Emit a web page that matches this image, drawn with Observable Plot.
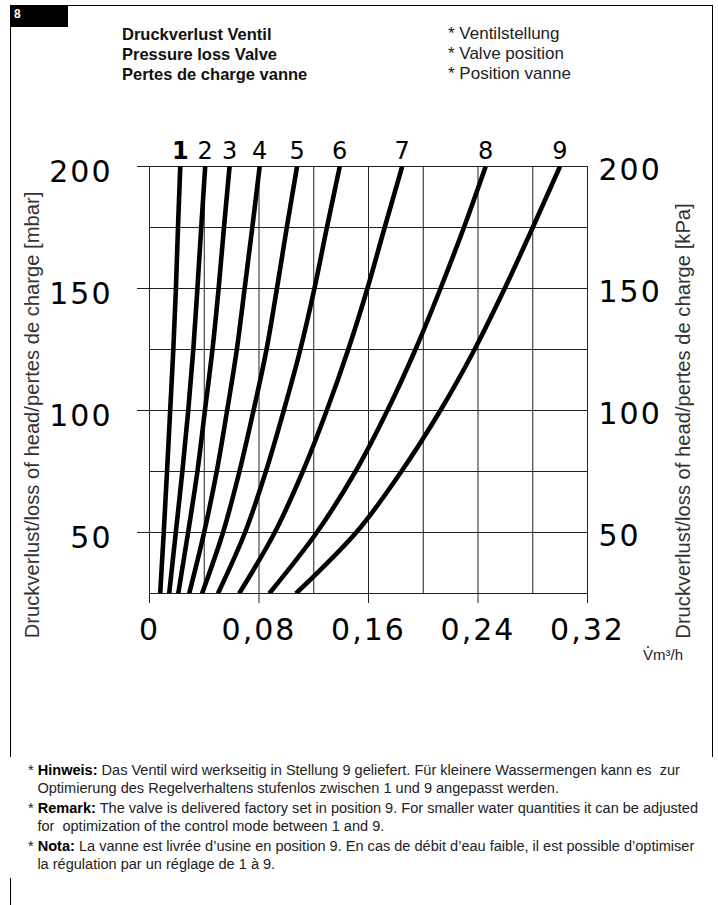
<!DOCTYPE html>
<html><head><meta charset="utf-8">
<script src="https://cdn.jsdelivr.net/npm/d3@7"></script>
<script src="https://cdn.jsdelivr.net/npm/@observablehq/plot@0.6"></script>
<style>
body{margin:0;background:#fff;}
#page{position:relative;width:718px;height:905px;overflow:hidden;font-family:"Liberation Sans",Arial,Helvetica,sans-serif;color:#111;background:#fff;}
.abs{position:absolute;}
.line{position:absolute;background:#000;}
#badge{left:10px;top:5px;width:58px;height:22px;background:#000;color:#fff;font-weight:bold;font-size:12px;line-height:18px;padding-left:4px;box-sizing:border-box;}
#titleL{left:122px;top:24px;font-size:16.5px;font-weight:bold;line-height:20px;}
#titleR{left:448px;top:24px;font-size:17px;line-height:20px;color:#222;}
#unit{left:643px;top:646px;font-size:15px;line-height:18px;color:#222;}
#unit .v{position:relative;display:inline-block;}
#unit .v::after{content:"";position:absolute;left:4px;top:0px;width:2px;height:2px;background:#222;border-radius:1px;}
#foot{left:28px;top:761px;font-size:15.5px;line-height:18px;color:#222;white-space:nowrap;transform-origin:0 0;}
#foot p{margin:0 0 2px 0;padding-left:10px;text-indent:-10px;}
#foot b{color:#000;}
</style></head><body><div id="page">
<div class="line" style="left:68px;top:5px;width:645px;height:1px"></div>
<div class="line" style="left:10px;top:5px;width:1px;height:752px"></div>
<div class="line" style="left:10px;top:878px;width:1px;height:27px"></div>
<div class="line" style="left:712px;top:5px;width:1px;height:752px"></div>
<div id="badge" class="abs">8</div>
<div id="titleL" class="abs">Druckverlust Ventil<br>Pressure loss Valve<br>Pertes de charge vanne</div>
<div id="titleR" class="abs">* Ventilstellung<br>* Valve position<br>* Position vanne</div>
<div id="chart" class="abs" style="left:0;top:0"></div>
<div id="unit" class="abs"><span class="v">V</span>m³/h</div>
<div id="foot" class="abs">
<p>* <b>Hinweis:</b> Das Ventil wird werkseitig in Stellung 9 geliefert. Für kleinere Wassermengen kann es &nbsp;zur<br>Optimierung des Regelverhaltens stufenlos zwischen 1 und 9 angepasst werden.</p>
<p>* <b>Remark:</b> The valve is delivered factory set in position 9. For smaller water quantities it can be adjusted<br>for &nbsp;optimization of the control mode between 1 and 9.</p>
<p>* <b>Nota:</b> La vanne est livrée d’usine en position 9. En cas de débit d’eau faible, il est possible d’optimiser<br>la régulation par un réglage de 1 à 9.</p>
</div>
</div>
<script>
// pressure loss [mbar] at which flows were read
const pressure = [25, 50, 75, 100, 125, 150, 175, 200];
// valve positions
const positions = ["1", "2", "3", "4", "5", "6", "7", "8", "9"];
// flow [m3/h] per valve position, read at each pressure value
const flow1 = [0.0078, 0.0104, 0.0128, 0.0151, 0.0174, 0.0193, 0.0208, 0.0225];
const flow2 = [0.0144, 0.0192, 0.0240, 0.0283, 0.0320, 0.0350, 0.0378, 0.0407];
const flow3 = [0.0210, 0.0282, 0.0350, 0.0405, 0.0460, 0.0505, 0.0544, 0.0585];
const flow4 = [0.0290, 0.0399, 0.0491, 0.0567, 0.0638, 0.0695, 0.0751, 0.0805];
const flow5 = [0.0384, 0.0537, 0.0657, 0.0760, 0.0855, 0.0931, 0.1003, 0.1078];
const flow6 = [0.0500, 0.0698, 0.0850, 0.0981, 0.1102, 0.1205, 0.1296, 0.1390];
const flow7 = [0.0655, 0.0915, 0.1120, 0.1295, 0.1452, 0.1592, 0.1718, 0.1846];
const flow8 = [0.0875, 0.1222, 0.1505, 0.1738, 0.1943, 0.2126, 0.2297, 0.2456];
const flow9 = [0.1070, 0.1510, 0.1840, 0.2125, 0.2375, 0.2595, 0.2800, 0.2999];
// axis ticks and grid
const xTicks = [0, 0.08, 0.16, 0.24, 0.32];
const xGrid = [0, 0.04, 0.08, 0.12, 0.16, 0.20, 0.24, 0.28, 0.32];
const yTicks = [50, 100, 150, 200];
const yGrid = [25, 50, 75, 100, 125, 150, 175, 200];
const yLabelLeft = "Druckverlust/loss of head/pertes de charge [mbar]";
const yLabelRight = "Druckverlust/loss of head/pertes de charge [kPa]";

const flows = [flow1, flow2, flow3, flow4, flow5, flow6, flow7, flow8, flow9];
const rows = [];
positions.forEach((pos, i) => flows[i].forEach((q, j) => rows.push({pos, p: pressure[j], q})));
const pTop = pressure[pressure.length - 1];
const labels = positions.map((pos, i) => ({pos, q: flows[i][flows[i].length - 1], p: pTop}));
const xMin = xGrid[0], xMax = xGrid[xGrid.length - 1];
const yMin = yGrid[0], yMax = yGrid[yGrid.length - 1];
const fmt = d => d === 0 ? "0" : d.toFixed(2).replace(".", ",");
const numFont = "'DejaVu Sans', Verdana, sans-serif";

const chart = Plot.plot({
  width: 718, height: 700,
  marginTop: 166, marginBottom: 107, marginLeft: 149, marginRight: 131,
  style: {fontFamily: "'Liberation Sans', Arial, Helvetica, sans-serif", background: "transparent", color: "#000"},
  x: {domain: [xMin, xMax]},
  y: {domain: [yMin, yMax]},
  marks: [
    Plot.ruleX(xGrid, {y1: yMin, y2: yMax, stroke: "#222", strokeWidth: 1}),
    Plot.ruleY(yGrid, {x1: xMin, x2: xMax, stroke: "#222", strokeWidth: 1}),
    Plot.axisY({ticks: yTicks, anchor: "left", tickSize: 12, tickFormat: () => "", label: null, stroke: "#222"}),
    Plot.axisY({ticks: yTicks, anchor: "left", tickSize: 0, tickPadding: 37, dy: 6, fontSize: 30, fontFamily: numFont, label: null, fill: "#000"}),
    Plot.axisY({ticks: yTicks, anchor: "right", tickSize: 0, tickPadding: 11, dy: 4, fontSize: 30, fontFamily: numFont, label: null, fill: "#000"}),
    Plot.axisX({ticks: xTicks, anchor: "bottom", tickSize: 10, tickPadding: 15, tickFormat: fmt, fontSize: 30, fontFamily: numFont, label: null, stroke: "#222"}),
    Plot.line(rows, {x: "q", y: "p", z: "pos", stroke: "#000", strokeWidth: 4.6, curve: "monotone-y", strokeLinecap: "butt", clip: true}),
    Plot.text(labels.filter(d => d.pos === "1"), {x: "q", y: "p", text: "pos", dy: -15, fontSize: 24, fontFamily: numFont, fontWeight: "bold", fill: "#000"}),
    Plot.text(labels.filter(d => d.pos !== "1"), {x: "q", y: "p", text: "pos", dy: -15, fontSize: 24, fontFamily: numFont, fill: "#000"}),
    Plot.text([yLabelLeft], {text: d => d, frameAnchor: "left", textAnchor: "middle", rotate: -90, dx: -117, dy: 35, fontSize: 20.2, fill: "#333"}),
    Plot.text([yLabelRight], {text: d => d, frameAnchor: "right", textAnchor: "middle", rotate: -90, dx: 96, dy: 41, fontSize: 20.2, fill: "#333"})
  ]
});
document.getElementById("chart").appendChild(chart);
// wider digit spacing for the big tick numbers
chart.querySelectorAll('g[aria-label*="tick label"] text').forEach(t => t.style.letterSpacing = "2px");

// condense the footer to the reference width
const foot = document.getElementById("foot");
const w = foot.getBoundingClientRect().width;
foot.style.transform = `scaleX(${670 / w})`;
</script></body></html>
